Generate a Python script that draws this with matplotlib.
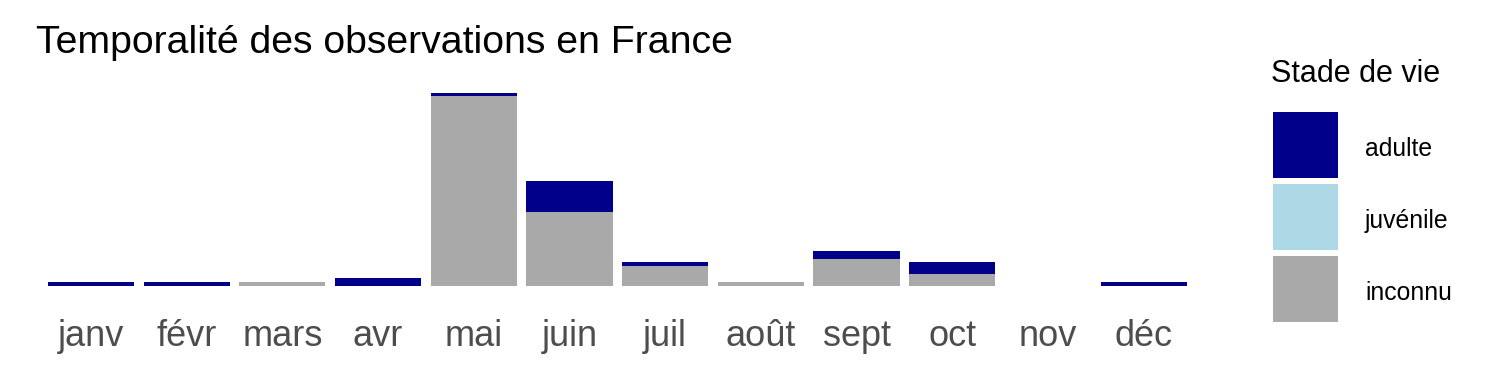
import matplotlib
matplotlib.use("Agg")
import matplotlib.pyplot as plt
from matplotlib.patches import Rectangle
import numpy as np

plt.rcParams['font.family'] = ['Liberation Sans', 'DejaVu Sans']

mois = ["janv", "févr", "mars", "avr", "mai", "juin", "juil", "août", "sept", "oct", "nov", "déc"]
inconnu = [0, 0, 1, 0, 49, 19, 5, 1, 7, 3, 0, 0]
juvenile = [0, 0, 0, 0, 0, 0, 0, 0, 0, 0, 0, 0]
adulte = [1, 1, 0, 2, 1, 8, 1, 0, 2, 3, 0, 1]

stades = ["adulte", "juvénile", "inconnu"]
couleurs = {"adulte": "#00008B", "juvénile": "#ADD8E6", "inconnu": "#A9A9A9"}

fig = plt.figure(figsize=(15, 3.75), dpi=100)
ax = fig.add_axes([0.0224, 0.2125, 0.7783, 0.5662])

x = np.arange(len(mois))
inc = np.array(inconnu, dtype=float)
juv = np.array(juvenile, dtype=float)
adu = np.array(adulte, dtype=float)
ax.bar(x, inc, width=0.9, color=couleurs["inconnu"], linewidth=0)
ax.bar(x, juv, width=0.9, bottom=inc, color=couleurs["juvénile"], linewidth=0)
ax.bar(x, adu, width=0.9, bottom=inc + juv, color=couleurs["adulte"], linewidth=0)

total = (inc + juv + adu).max()
ax.set_ylim(-0.05 * total, total * 1.05)
ax.set_xlim(-0.6, len(mois) - 1 + 0.6)
ax.set_xticks(x)
ax.set_xticklabels(mois, fontsize=26, color="#4D4D4D")
ax.tick_params(axis="x", length=0, pad=17)
ax.set_yticks([])
for s in ax.spines.values():
    s.set_visible(False)

fig.text(36 / 1500, 1 - 53 / 375, "Temporalité des observations en France",
         fontsize=28.3, color="black", va="baseline", ha="left")

# Legend
fig.text(1271 / 1500, 1 - 82.5 / 375, "Stade de vie", fontsize=22, va="baseline", ha="left")
key_w, key_h = 65, 66
tops = [112, 184, 256]
for stade, top in zip(stades, tops):
    fig.add_artist(Rectangle((1273 / 1500, 1 - (top + key_h) / 375), key_w / 1500, key_h / 375,
                             transform=fig.transFigure, color=couleurs[stade], linewidth=0))
    fig.text(1365 / 1500, 1 - (top + key_h / 2 + 4) / 375, stade, fontsize=17.8, va="center", ha="left")

fig.savefig("out.png", dpi=100, facecolor="white")
